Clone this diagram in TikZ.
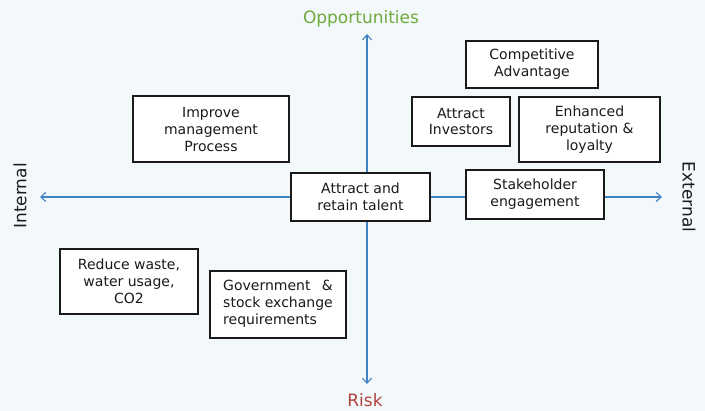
\documentclass[tikz,border=0pt]{standalone}
\usepackage{fontspec}
\setmainfont{DejaVu Sans}
\usetikzlibrary{arrows.meta}
\definecolor{axisblue}{HTML}{3F83C4}
\definecolor{bg}{HTML}{F3F8FA}
\definecolor{oppgreen}{HTML}{6FAA3C}
\definecolor{riskred}{HTML}{B0403C}
\definecolor{ink}{HTML}{1A1A1A}
\begin{document}
\begin{tikzpicture}[x=1pt,y=-1pt,
  box/.style={draw=ink,line width=1.4pt,fill=white,inner sep=0pt,align=center,
    text=ink,font=\fontsize{14}{17}\selectfont},
  axis/.style={draw=axisblue,line width=1.1pt,-{Straight Barb[length=5pt,width=9pt]}},
  lab/.style={font=\fontsize{17}{20}\selectfont}]
\fill[bg] (0,0) rectangle (705,411);
\useasboundingbox (0,0) rectangle (705,411);
\coordinate (c) at (367,197);
\coordinate (L) at (40,197);
\coordinate (R) at (662,197);
\coordinate (T) at (367,34);
\coordinate (B) at (367,384);
\draw[axis] (c) -- (L);
\draw[axis] (c) -- (R);
\draw[axis] (c) -- (T);
\draw[axis] (c) -- (B);
\node[lab,text=oppgreen] (opp) at (361,19) {Opportunities};
\node[lab,text=riskred] (risk) at (365,400) {Risk};
\node[lab,text=ink,rotate=90] (int) at (20,196) {Internal};
\node[lab,text=ink,rotate=-90] (ext) at (689,197) {External};
\node[box,minimum width=132pt,minimum height=47pt] (ca) at (532,64.5) {Competitive\\Advantage};
\node[box,minimum width=98pt,minimum height=49pt] (ai) at (461,121.5) {Attract\\Investors};
\node[box,minimum width=141pt,minimum height=65pt] (er) at (589.5,129.5) {Enhanced\\reputation \&\\loyalty};
\node[box,minimum width=156pt,minimum height=66pt] (im) at (211,129) {Improve\\management\\Process};
\node[box,minimum width=139pt,minimum height=48pt] (at) at (360.5,197) {Attract and\\retain talent};
\node[box,minimum width=138pt,minimum height=49pt] (se) at (535,194.5) {Stakeholder\\engagement};
\node[box,minimum width=138pt,minimum height=65pt] (rw) at (129,281.5) {Reduce waste,\\water usage,\\CO2};
\node[box,minimum width=136pt,minimum height=67pt] (gv) at (278,304.5)
  {\begin{tabular}{@{}l@{}}Government\hfill\&\\stock exchange\\requirements\end{tabular}};
\end{tikzpicture}
\end{document}
